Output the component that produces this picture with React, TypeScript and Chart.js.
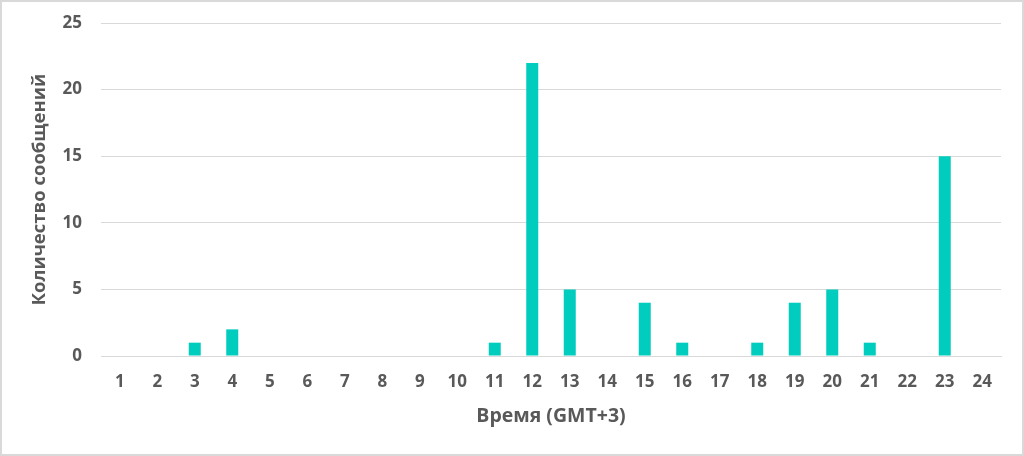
import React, { useEffect, useRef } from "react";
import { Chart, registerables } from "chart.js";

Chart.register(...registerables);

const hours = ["1","2","3","4","5","6","7","8","9","10","11","12","13","14","15","16","17","18","19","20","21","22","23","24"];
const messages = [0,0,1,2,0,0,0,0,0,0,1,22,5,0,4,1,0,1,4,5,1,0,15,0];
const yTicks = [0, 5, 10, 15, 20, 25];
const xTitle = "Время (GMT+3)";
const yTitle = "Количество сообщений";

export default function App() {
  const ref = useRef<HTMLCanvasElement | null>(null);
  useEffect(() => {
    document.body.style.margin = "0";
    const family = "'Open Sans', 'DejaVu Sans', sans-serif";
    const font = { family, size: 17, weight: "bold" as const };
    const chart = new Chart(ref.current!, {
      type: "bar",
      data: {
        labels: hours,
        datasets: [{ data: messages, backgroundColor: "#00CDBE", barPercentage: 0.32, categoryPercentage: 1 }],
      },
      options: {
        animation: false,
        responsive: false,
        maintainAspectRatio: false,
        layout: { padding: { left: 0, right: 23, top: 23, bottom: 0 } },
        plugins: { legend: { display: false }, tooltip: { enabled: false } },
        scales: {
          x: {
            grid: { display: false, drawTicks: false },
            border: { display: true, color: "#d9d9d9", width: 1 },
            ticks: { color: "#595959", font, padding: 16, maxRotation: 0, autoSkip: false },
            title: { display: true, text: xTitle, color: "#595959", font: { family, size: 19.5, weight: "bold" as const }, padding: { top: 4, bottom: 28 } },
            afterFit: (s: any) => { s.height = 100; s.paddingLeft = 0; s.paddingRight = 0; },
          },
          y: {
            min: 0,
            max: 25,
            afterBuildTicks: (s: any) => { s.ticks = yTicks.map((v) => ({ value: v })); },
            grid: { color: "#d9d9d9", drawTicks: false },
            border: { display: false },
            ticks: { color: "#595959", font, padding: 19 },
            title: { display: true, text: yTitle, color: "#595959", font: { family, size: 18.5, weight: "bold" as const }, padding: { top: 29, bottom: 4 } },
            afterFit: (s: any) => { s.width = 101; s.paddingTop = 0; s.paddingBottom = 0; },
          },
        },
      },
    });
    return () => chart.destroy();
  }, []);
  return (
    <div style={{ position: "absolute", left: 0, top: 0, width: 1024, height: 456, background: "#fff" }}>
      <canvas ref={ref} width={1024} height={456} style={{ display: "block" }} />
      <div style={{ position: "absolute", left: 0, top: 0, width: 1024, height: 456, boxSizing: "border-box", border: "2px solid #d9d9d9", pointerEvents: "none" }} />
    </div>
  );
}
